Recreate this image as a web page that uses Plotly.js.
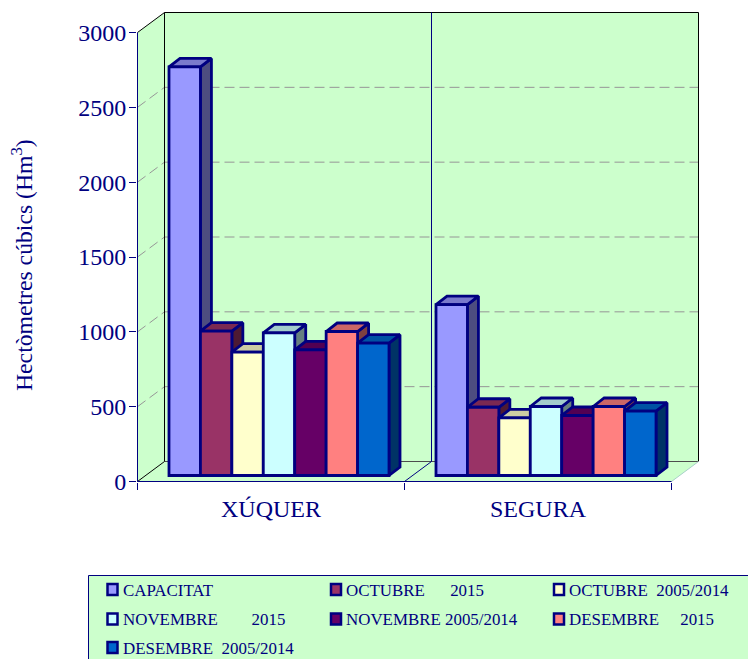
<!DOCTYPE html>
<html>
<head>
<meta charset="utf-8">
<script src="https://cdn.plot.ly/plotly-3.0.1.min.js"></script>
<style>html,body{margin:0;padding:0;background:#fff;overflow:hidden}#chart{width:748px;height:659px}</style>
</head>
<body>
<div id="chart"></div>
<script>
// ---------- data ----------
var categories = ['XÚQUER', 'SEGURA'];
var yTicks = [0, 500, 1000, 1500, 2000, 2500, 3000];
var capacitat   = [2730, 1142];
var octubre15   = [964, 456];
var octubreAvg  = [824, 385];
var novembre15  = [953, 461];
var novembreAvg = [840, 401];
var desembre15  = [962, 461];
var desembreAvg = [884, 430];
var seriesValues = [capacitat, octubre15, octubreAvg, novembre15, novembreAvg, desembre15, desembreAvg];
var sp = '\u00a0';
var seriesNames = [
  'CAPACITAT',
  'OCTUBRE' + sp.repeat(6) + '2015',
  'OCTUBRE' + sp.repeat(2) + '2005/2014',
  'NOVEMBRE' + sp.repeat(8) + '2015',
  'NOVEMBRE' + sp + '2005/2014',
  'DESEMBRE' + sp.repeat(5) + '2015',
  'DESEMBRE' + sp.repeat(2) + '2005/2014'
];
var seriesColors = ['#9999FF', '#993366', '#FFFFCC', '#CCFFFF', '#660066', '#FF8080', '#0066CC'];

// ---------- geometry (pixels per data unit and projected depth offsets) ----------
var W = 748, H = 659;
var mL = 137, mR = 49, mT = 12, mB = 177;
var plotW = W - mL - mR, plotH = H - mT - mB;
var pxPerCat = 267, pxPerVal = 449 / 3000;
var ux = function (p) { return p / pxPerCat; };
var uy = function (p) { return p / pxPerVal; };
var wallDx = ux(27), wallDy = uy(20);
var planeDx = ux(8), planeDy = uy(6);
var barDx = ux(11), barDy = uy(8.5);
var barPx = 31.43, nS = seriesValues.length, groupPx = barPx * nS;
var halfPx = 0.5;
var navy = '#000080', green = '#CCFFCC', grey = '#969696';
var fontFam = '"Liberation Serif","Times New Roman",serif';

function shade(hex, k) {
  var n = parseInt(hex.slice(1), 16);
  var c = [(n >> 16) & 255, (n >> 8) & 255, n & 255].map(function (v) { return Math.round(v * k); });
  return 'rgb(' + c.join(',') + ')';
}

var traces = [];
// depth faces, painted bar by bar from left to right
categories.forEach(function (cat, c) {
  seriesValues.forEach(function (vals, s) {
    var v = vals[c];
    var L = c + 0.5 + ux(-groupPx / 2 + s * barPx) + planeDx;
    var R = L + ux(barPx);
    var B = planeDy, T = v + planeDy;
    var common = { type: 'scatter', mode: 'lines', fill: 'toself', showlegend: false, hoverinfo: 'skip',
                   line: { color: navy, width: 2.8 } };
    traces.push(Object.assign({}, common, {
      x: [R, R + barDx, R + barDx, R, R],
      y: [B, B + barDy, T + barDy, T, B],
      fillcolor: shade(seriesColors[s], 0.5)
    }));
    traces.push(Object.assign({}, common, {
      x: [L, R, R + barDx, L + barDx, L],
      y: [T, T, T + barDy, T + barDy, T],
      fillcolor: shade(seriesColors[s], 0.8)
    }));
  });
});
// front faces: real bars on an axis pair shifted to the bars' front plane
seriesValues.forEach(function (vals, s) {
  traces.push({
    type: 'bar', name: seriesNames[s], x: categories.map(function (_, i) { return i + 0.5; }), y: vals,
    xaxis: 'x2', yaxis: 'y2', showlegend: false,
    marker: { color: seriesColors[s], line: { color: navy, width: 2.8 } }
  });
});

// ---------- walls, floor, grid ----------
var nCat = categories.length;
var topV = 3000;
function poly(xs, ys, fill, lineCol, w) {
  var p = xs.map(function (x, i) { return (i ? 'L' : 'M') + x + ',' + ys[i]; }).join('') + 'Z';
  return { type: 'path', xref: 'x', yref: 'y', path: p, fillcolor: fill, line: { color: lineCol, width: w }, layer: 'below' };
}
function seg(x0, y0, x1, y1, col, w, dash) {
  return { type: 'line', xref: 'x', yref: 'y', x0: x0, y0: y0, x1: x1, y1: y1, layer: 'below',
           line: { color: col, width: w, dash: dash || 'solid' } };
}
var shapes = [
  poly([0, wallDx, wallDx, 0], [0, wallDy, topV + wallDy, topV], green, 'rgba(0,0,0,0)', 0),
  poly([0, nCat, nCat + wallDx, wallDx], [0, 0, wallDy, wallDy], green, 'rgba(0,0,0,0)', 0),
  poly([wallDx, nCat + wallDx, nCat + wallDx, wallDx], [wallDy, wallDy, topV + wallDy, topV + wallDy], green, 'rgba(0,0,0,0)', 0)
];
yTicks.slice(1, -1).forEach(function (t) {
  shapes.push(seg(wallDx, t + wallDy, nCat + wallDx, t + wallDy, grey, 1, '10px,5px'));
  shapes.push(seg(0, t, wallDx, t + wallDy, grey, 1, '10px,5px'));
});
shapes.push(seg(wallDx, wallDy, wallDx, topV + wallDy, '#000', 1));
shapes.push(seg(wallDx, topV + wallDy, nCat + wallDx, topV + wallDy, '#000', 1));
shapes.push(seg(nCat + wallDx, wallDy, nCat + wallDx, topV + wallDy, '#000', 1));
shapes.push(seg(wallDx, wallDy, nCat + wallDx, wallDy, '#4d4d4d', 1));
shapes.push(seg(0, topV, wallDx, topV + wallDy, '#000', 1));
shapes.push(seg(0, 0, wallDx, wallDy, '#000', 1));
shapes.push(seg(1, 0, 1 + wallDx, wallDy, navy, 1));
shapes.push(seg(1 + wallDx, wallDy, 1 + wallDx, topV + wallDy, navy, 1));
shapes.push(seg(nCat, 0, nCat + wallDx, wallDy, '#a8d0c8', 1));
shapes.push(seg(0, 0, 0, topV, navy, 1));
shapes.push(seg(0, 0, nCat, 0, navy, 1));

// ---------- legend panel (paper-anchored) ----------
function px(p) { return (p - mL) / plotW; }
function py(p) { return (H - mB - p) / plotH; }
shapes.push({ type: 'rect', xref: 'paper', yref: 'paper', x0: px(88.5), x1: px(770), y0: py(575.5), y1: py(680),
              fillcolor: green, line: { color: navy, width: 1 }, layer: 'below' });
var legCols = [112.5, 336, 559], legRows = [590, 619.5, 648];
var annotations = [];
seriesNames.forEach(function (name, s) {
  var cx = legCols[s % 3], cy = legRows[Math.floor(s / 3)];
  shapes.push({ type: 'rect', xref: 'paper', yref: 'paper', x0: px(cx - 5), x1: px(cx + 5), y0: py(cy - 6), y1: py(cy + 5),
                fillcolor: seriesColors[s], line: { color: navy, width: 2.5 } });
  annotations.push({ xref: 'paper', yref: 'paper', x: px(cx + 8), y: py(cy), xanchor: 'left', yanchor: 'middle',
                     showarrow: false, text: name, font: { family: fontFam, size: 16.9, color: navy } });
});
annotations.push({ xref: 'paper', yref: 'paper', x: px(22), y: py(265), xanchor: 'center', yanchor: 'middle', textangle: -90,
                   showarrow: false, text: 'Hectòmetres cúbics (Hm<sup>3</sup>)', font: { family: fontFam, size: 23.7, color: navy } });

var x0 = -ux(halfPx), x1 = ux(plotW - halfPx), y0 = -uy(halfPx), y1 = uy(plotH - halfPx);
var layout = {
  width: W, height: H, margin: { l: mL, r: mR, t: mT, b: mB, pad: 0 },
  paper_bgcolor: '#fff', plot_bgcolor: '#fff', showlegend: false, hovermode: false,
  barmode: 'group', bargap: 1 - groupPx / pxPerCat, bargroupgap: 0,
  font: { family: fontFam, color: navy },
  xaxis: {
    type: 'linear', range: [x0, x1], showgrid: false, zeroline: false, showline: false, fixedrange: true,
    tickmode: 'array', tickvals: categories.map(function (_, i) { return i + 0.5; }), ticktext: categories,
    ticks: 'outside', ticklen: 5, tickcolor: 'rgba(0,0,0,0)', tickfont: { family: fontFam, size: 24, color: navy },
    minor: { tickmode: 'array', tickvals: [0, 1, 2], ticks: 'outside', ticklen: 7, tickwidth: 1, tickcolor: navy, showgrid: false }
  },
  yaxis: {
    type: 'linear', range: [y0, y1], showgrid: false, zeroline: false, showline: false, fixedrange: true,
    tickmode: 'array', tickvals: yTicks, ticks: 'outside', ticklen: 7, tickwidth: 1, tickcolor: navy, ticklabelstandoff: -2,
    tickfont: { family: fontFam, size: 24, color: navy }
  },
  xaxis2: { overlaying: 'x', visible: false, type: 'linear', fixedrange: true, range: [x0 - planeDx, x1 - planeDx] },
  yaxis2: { overlaying: 'y', visible: false, type: 'linear', fixedrange: true, range: [y0 - planeDy, y1 - planeDy] },
  shapes: shapes, annotations: annotations
};
Plotly.newPlot('chart', traces, layout, { displayModeBar: false, staticPlot: true });
</script>
</body>
</html>
